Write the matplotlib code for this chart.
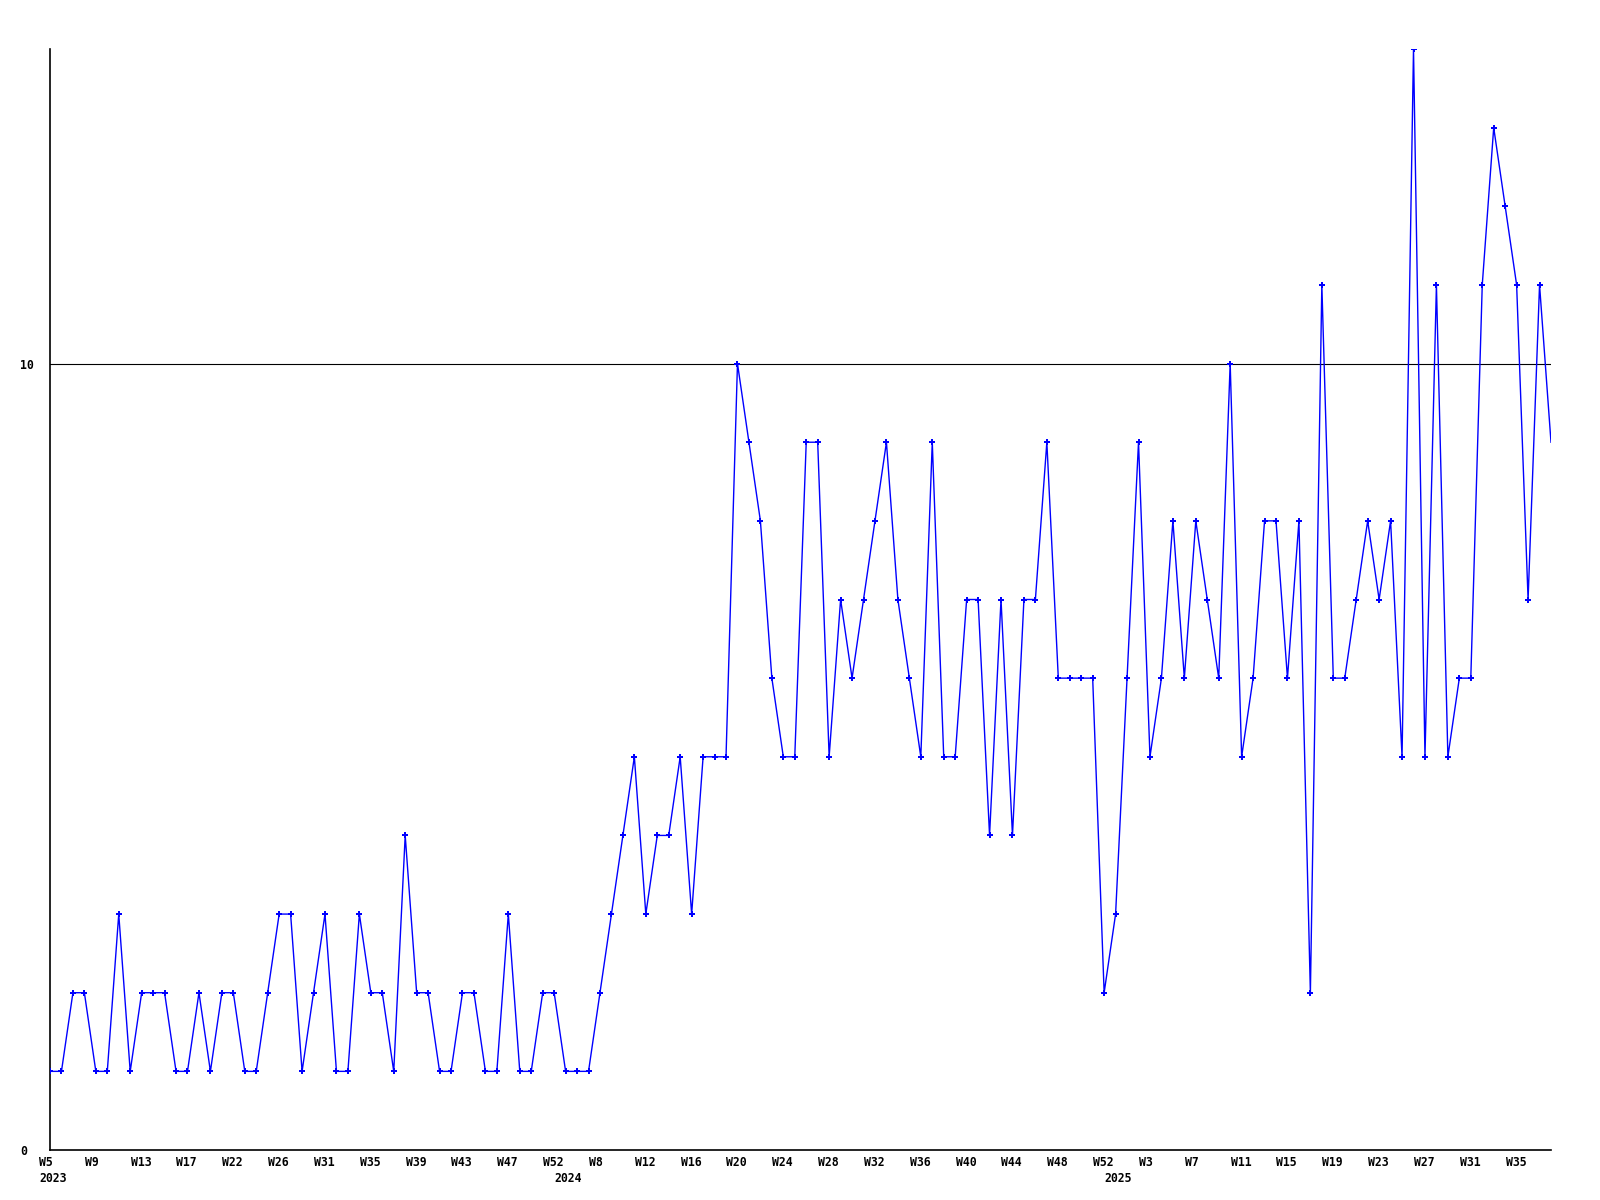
import matplotlib
matplotlib.use("Agg")
import matplotlib.pyplot as plt
from matplotlib.transforms import ScaledTranslation, blended_transform_factory

# ---- data ----
values = [
    1, 1, 2, 2, 1, 1, 3, 1, 2, 2, 2, 1, 1, 2, 1, 2, 2, 1, 1, 2,
    3, 3, 1, 2, 3, 1, 1, 3, 2, 2, 1, 4, 2, 2, 1, 1, 2, 2, 1, 1,
    3, 1, 1, 2, 2, 1, 1, 1, 2, 3, 4, 5, 3, 4, 4, 5, 3, 5, 5, 5,
    10, 9, 8, 6, 5, 5, 9, 9, 5, 7, 6, 7, 8, 9, 7, 6, 5, 9, 5, 5,
    7, 7, 4, 7, 4, 7, 7, 9, 6, 6, 6, 6, 2, 3, 6, 9, 5, 6, 8, 6,
    8, 7, 6, 10, 5, 6, 8, 8, 6, 8, 2, 11, 6, 6, 7, 8, 7, 8, 5, 14,
    5, 11, 5, 6, 6, 11, 13, 12, 11, 7, 11, 9,
]
week_labels = ["W5", "W9", "W13", "W17", "W22", "W26", "W31", "W35", "W39",
               "W43", "W47", "W52", "W8", "W12", "W16", "W20", "W24", "W28",
               "W32", "W36", "W40", "W44", "W48", "W52", "W3", "W7", "W11",
               "W15", "W19", "W23", "W27", "W31", "W35"]
week_label_step = 4
year_labels = ["2023", "2024", "2025"]
year_start_index = [0, 45, 93]
y_ticks = [0, 10]
y_max = 14

# ---- figure ----
fig = plt.figure(figsize=(16, 12), dpi=100)
ax = fig.add_axes([50 / 1600, 1 - 1150 / 1200, 1501 / 1600, 1101 / 1200])

x = list(range(len(values)))
ax.plot(x, values, color="#0000ff", linewidth=1.0, marker="P", markersize=5,
        markeredgewidth=0, markevery=slice(0, len(values) - 1), zorder=3)

ax.set_xlim(0, len(values) - 1)
ax.set_ylim(0, y_max)

# reference line at 10
ax.axhline(10, color="black", linewidth=0.8, zorder=2)

for s in ["top", "right"]:
    ax.spines[s].set_visible(False)
for s in ["left", "bottom"]:
    ax.spines[s].set_color("black")
    ax.spines[s].set_linewidth(1.2)

font = dict(family="DejaVu Sans Mono", weight="bold", size=8.3)

ax.set_yticks(y_ticks, [str(v) for v in y_ticks], **font)
ax.tick_params(axis="y", length=0, pad=21.6)
for lab in ax.get_yticklabels():
    lab.set_horizontalalignment("left")

tick_pos = [i * week_label_step for i in range(len(week_labels))]
ax.set_xticks(tick_pos, week_labels, **font)
ax.tick_params(axis="x", length=0, pad=4.5)
for lab in ax.get_xticklabels():
    lab.set_horizontalalignment("left")
    lab.set_transform(lab.get_transform() + ScaledTranslation(-0.11, 0, fig.dpi_scale_trans))

trans = blended_transform_factory(ax.transData, ax.transAxes) + \
    ScaledTranslation(-0.11, -0.215, fig.dpi_scale_trans)
for lab, idx in zip(year_labels, year_start_index):
    ax.text(idx, 0, lab, transform=trans, ha="left", va="top", **font)

fig.savefig("out.png", dpi=100, facecolor="white")
